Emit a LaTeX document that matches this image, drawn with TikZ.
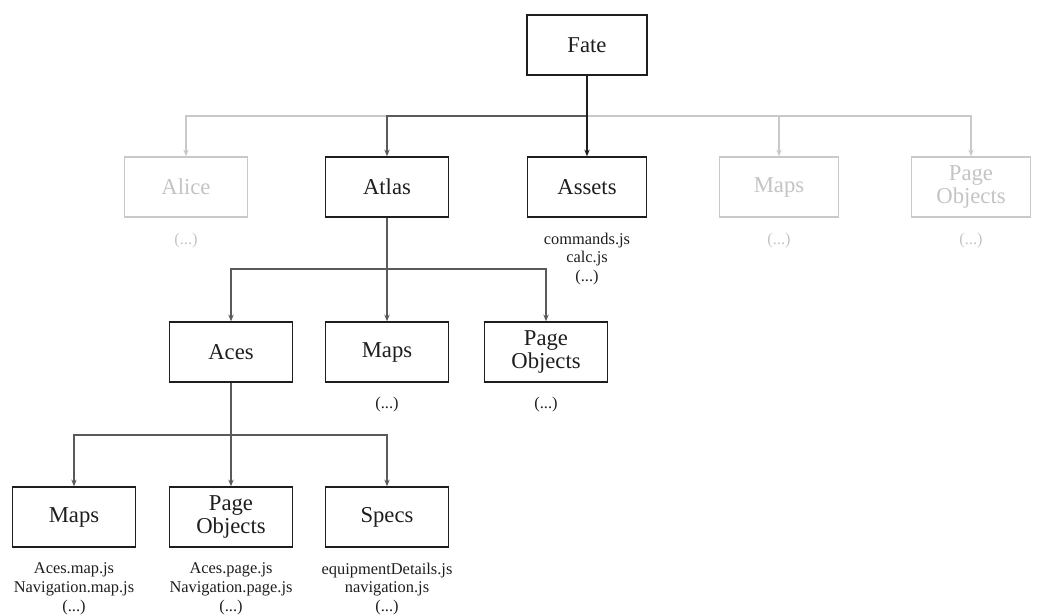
\documentclass[tikz,border=0pt]{standalone}
\usepackage{fontspec}
\setmainfont{Liberation Serif}
\usetikzlibrary{arrows.meta}
\definecolor{ink}{HTML}{1E1E1E}
\definecolor{faded}{HTML}{C9C9C9}
\definecolor{fadedtext}{HTML}{C4C4C4}
\definecolor{wire}{HTML}{5A5A5A}
\tikzset{
  box/.style={draw=ink, line width=1.1pt, fill=white, text=ink,
    minimum width=92pt, minimum height=45pt, inner sep=0pt, align=center,
    font=\fontsize{17}{17.5}\selectfont},
  ghostbox/.style={box, draw=faded, text=fadedtext},
  files/.style={align=center, inner sep=0pt, text=ink,
    font=\fontsize{12.3}{14.2}\selectfont},
  ghostfiles/.style={files, text=fadedtext},
  tip/.style={-{Stealth[length=5pt,width=4pt]}},
  link/.style={tip, draw=wire, line width=0.9pt},
  ghostlink/.style={tip, draw=faded, line width=0.9pt},
  mainlink/.style={tip, draw=ink, line width=1pt}
}
\begin{document}
\begin{tikzpicture}[x=0.75pt,y=-0.75pt]
\useasboundingbox (0,0) rectangle (1046,615);

% root
\node[box, minimum width=90pt] (fate) at (587,45) {Fate};

% first level
\node[ghostbox] (alice)  at (186,187) {Alice};
\node[box]      (atlas)  at (387,187) {Atlas};
\node[box, minimum width=89pt] (assets) at (587,187) {Assets};
\node[ghostbox, minimum width=89pt] (mapsg)  at (779,187) {Maps};
\node[ghostbox, minimum width=89pt] (pog)    at (971,187) {Page\\Objects};

\node[ghostfiles] (alicefiles) at (186,241) {(...)};
\node[files]      (assetsfiles) at (587,259) {commands.js\\calc.js\\(...)};
\node[ghostfiles] (mapsgfiles) at (779,241) {(...)};
\node[ghostfiles] (pogfiles)   at (971,241) {(...)};

% second level
\node[box] (aces)  at (231,352) {Aces};
\node[box] (amaps) at (387,352) {Maps};
\node[box] (apo)   at (546,352) {Page\\Objects};

\node[files] (amapsfiles) at (387,405) {(...)};
\node[files] (apofiles)   at (546,405) {(...)};

% third level
\node[box] (cmaps)  at (74,517)  {Maps};
\node[box] (cpo)    at (231,517) {Page\\Objects};
\node[box] (cspecs) at (387,517) {Specs};

\node[files] (cmapsfiles)  at (74,589)  {Aces.map.js\\Navigation.map.js\\(...)};
\node[files] (cpofiles)    at (231,589) {Aces.page.js\\Navigation.page.js\\(...)};
\node[files] (cspecsfiles) at (387,589) {equipmentDetails.js\\navigation.js\\(...)};

% bus points
\coordinate (busA) at (587,116);
\coordinate (busB) at (387,269);
\coordinate (busC) at (231,435);

% connectors from the root
\draw[ghostlink] (busA) -| (alice.north);
\draw[ghostlink] (busA) -| (mapsg.north);
\draw[ghostlink] (busA) -| (pog.north);
\draw[link] (busA) -| (atlas.north);
\draw[mainlink] (fate.south) -- (assets.north);

% connectors from Atlas
\draw[link] (atlas.south) -- (amaps.north);
\draw[link] (busB) -| (aces.north);
\draw[link] (busB) -| (apo.north);

% connectors from Aces
\draw[link] (aces.south) |- (busC) -| (cmaps.north);
\draw[link] (busC) -- (cpo.north);
\draw[link] (busC) -| (cspecs.north);
\end{tikzpicture}
\end{document}
